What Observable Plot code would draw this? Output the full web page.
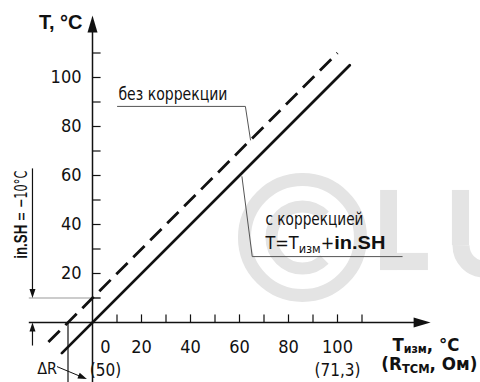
<!DOCTYPE html>
<html><head><meta charset="utf-8">
<script src="https://cdn.jsdelivr.net/npm/d3@7"></script>
<script src="https://cdn.jsdelivr.net/npm/@observablehq/plot@0.6"></script>
<style>body{margin:0;background:#fff} svg{display:block}</style>
</head><body><div id="chart"></div>
<script>
// ---- data ----
const xTicks = [10, 20, 30, 40, 50, 60, 70, 80, 90, 100, 110];
const yTicks = [10, 20, 30, 40, 50, 60, 70, 80, 90, 100, 110];
const xTickLabels = [0, 20, 40, 60, 80, 100];
const yTickLabels = [20, 40, 60, 80, 100];
const resistanceAt = [0, 100];
const resistanceLabels = ["(50)", "(71,3)"];
const tMeasCorrected = [-12.5, 105];
const tCorrected = [-12.5, 105];
const tMeasUncorrected = [-18, 100];
const tUncorrected = [-8, 110];
const inSH = -10;
const labelNoCorr = "без коррекции";
const labelCorr = "с коррекцией";
const labelFormula = "T=Tизм+in.SH";
const labelShift = "in.SH = −10°C";
const labelY = "T, °C";
const labelX1 = "Tизм, °C";
const labelX2 = "(RТСМ, Ом)";
const labelDR = "ΔR";

// ---- annotation geometry (data units) ----
const xAxisFrom = -26, xAxisTip = 138, yAxisTip = 125.3, yBottom = -27;
const shiftX = -24.5, tickLen = 3.3;

const NARROW = "'Liberation Sans Narrow','DejaVu Sans Condensed','Arial Narrow',sans-serif";
const BOLD = "'Liberation Sans',Arial,sans-serif";
const WIDEBOLD = "'DejaVu Sans','Liberation Sans',sans-serif";
const WM = "#e4e4e4";

const arrowBig = {draw(c){c.moveTo(0,0);c.lineTo(-17,-5);c.lineTo(-17,5);c.closePath();}};
const arrowSmall = {draw(c){c.moveTo(0,0);c.lineTo(-9,-3);c.lineTo(-9,3);c.closePath();}};

const pts = (xs, ys) => xs.map((x, i) => ({x, y: ys[i]}));

const solid = pts(tMeasCorrected, tCorrected);
const dashed = pts(tMeasUncorrected, tUncorrected);
const leaderNo = pts([10.2, 62.4, 64.5], [88.2, 88.2, 74.5]);
const leaderCorr = pts([61, 65.2, 126.4], [59.5, 26.9, 26.9]);
const one = [0];

const cR = 31, cC = 2 * Math.PI * cR;   // inner arc of the © watermark
const uR = 23.5, uC = 2 * Math.PI * uR; // bowl of the U watermark

let chart;
try {
chart = Plot.plot({
  width: 480, height: 382, margin: 0,
  style: {background: "#fff", color: "#111"},
  x: {type: "linear", domain: [-30, 150], range: [18.5, 459.5], axis: null},
  y: {type: "linear", domain: [-30, 130], range: [395.5, 3.5], axis: null},
  marks: [
    // watermark (logo shapes)
    Plot.dot(one, {x: () => 85.7, y: () => 34.7, r: 58, stroke: WM, strokeWidth: 13, fill: "none"}),
    Plot.dot(one, {x: () => 85.7, y: () => 34.7, r: cR, stroke: WM, strokeWidth: 12, fill: "none",
      strokeDasharray: `0,${cC / 8},${cC * 3 / 4},${cC / 8}`}),
    Plot.rect(one, {x1: () => 117.6, x2: () => 124.5, y1: () => 21.2, y2: () => 53.9, fill: WM}),
    Plot.rect(one, {x1: () => 117.6, x2: () => 137.1, y1: () => 21.2, y2: () => 28.2, fill: WM}),
    Plot.rect(one, {x1: () => 146.9, x2: () => 153.9, y1: () => 31.4, y2: () => 53.9, fill: WM}),
    Plot.dot(one, {x: () => 160, y: () => 31.4, r: uR, stroke: WM, strokeWidth: 17, fill: "none",
      strokeDasharray: `${uC / 2},${uC / 2}`}),
    // reference lines
    Plot.link(one, {x1: () => xAxisFrom, x2: () => 3.3, y1: () => -inSH, y2: () => -inSH, stroke: "#999", strokeWidth: 1.2}),
    Plot.link(one, {x1: () => inSH, x2: () => inSH, y1: () => 0, y2: () => yBottom, stroke: "#111", strokeWidth: 1.2}),
    // axes
    Plot.link(one, {x1: () => xAxisFrom, x2: () => xAxisTip - 5, y1: () => 0, y2: () => 0, stroke: "#111", strokeWidth: 1.5}),
    Plot.link(one, {x1: () => 0, x2: () => 0, y1: () => yBottom, y2: () => yAxisTip - 5, stroke: "#111", strokeWidth: 1.5}),
    Plot.dot(one, {x: () => xAxisTip, y: () => 0, symbol: arrowBig, fill: "#111", stroke: "none"}),
    Plot.dot(one, {x: () => 0, y: () => yAxisTip, symbol: arrowBig, fill: "#111", stroke: "none", rotate: -90}),
    Plot.link(xTicks, {x1: d => d, x2: d => d, y1: () => 0, y2: () => tickLen, stroke: "#111", strokeWidth: 1.2}),
    Plot.link(yTicks, {y1: d => d, y2: d => d, x1: () => 0, x2: () => tickLen, stroke: "#111", strokeWidth: 1.2}),
    // tick labels
    Plot.text(xTickLabels.filter(d => d !== 0), {x: d => d, y: () => 0, dy: 24.5, text: d => String(d), fontSize: 18, fontFamily: NARROW}),
    Plot.text(one, {x: () => 0, y: () => 0, dx: 13, dy: 24.5, text: () => String(xTickLabels[0]), fontSize: 18, fontFamily: NARROW}),
    Plot.text(yTickLabels, {x: () => 0, y: d => d, dx: -11, text: d => String(d), textAnchor: "end", fontSize: 18, fontFamily: NARROW}),
    Plot.text([resistanceAt[0]], {x: d => d, y: () => 0, dx: 13, dy: 48, text: () => resistanceLabels[0], fontSize: 17, fontFamily: NARROW}),
    Plot.text([resistanceAt[1]], {x: d => d, y: () => 0, dy: 48, text: () => resistanceLabels[1], fontSize: 17, fontFamily: NARROW}),
    // lines
    Plot.line(dashed, {x: "x", y: "y", stroke: "#111", strokeWidth: 2.8, strokeDasharray: "16,8", strokeLinecap: "butt"}),
    Plot.line(solid, {x: "x", y: "y", stroke: "#111", strokeWidth: 2.8}),
    // leaders
    Plot.line(leaderNo, {x: "x", y: "y", stroke: "#555", strokeWidth: 1}),
    Plot.line(leaderCorr, {x: "x", y: "y", stroke: "#555", strokeWidth: 1}),
    Plot.text([labelNoCorr], {x: () => 10.6, y: () => 91, text: d => d, textAnchor: "start", lineAnchor: "bottom", fontSize: 17, fontFamily: NARROW}),
    Plot.text([labelCorr], {x: () => 70.6, y: () => 39.6, text: d => d, textAnchor: "start", lineAnchor: "bottom", fontSize: 17, fontFamily: NARROW}),
    Plot.text([labelFormula], {x: () => 70.6, y: () => 30.2, text: d => d, textAnchor: "start", lineAnchor: "bottom", fontSize: 17, fontFamily: NARROW}),
    // in.SH annotation
    Plot.link(one, {x1: () => shiftX, x2: () => shiftX, y1: () => 62.9, y2: () => -inSH + 3, stroke: "#111", strokeWidth: 1.2}),
    Plot.dot(one, {x: () => shiftX, y: () => -inSH, symbol: arrowSmall, fill: "#111", stroke: "none", rotate: 90}),
    Plot.link(one, {x1: () => shiftX, x2: () => shiftX, y1: () => -9.4, y2: () => -3, stroke: "#111", strokeWidth: 1.2}),
    Plot.dot(one, {x: () => shiftX, y: () => 0, symbol: arrowSmall, fill: "#111", stroke: "none", rotate: -90}),
    Plot.text([labelShift], {x: () => -29, y: () => 44, text: d => d, rotate: -90, fontSize: 18, fontFamily: NARROW}),
    // delta R
    Plot.link(one, {x1: () => -14.5, y1: () => -18, x2: () => -3.5, y2: () => -22.6, stroke: "#111", strokeWidth: 1}),
    Plot.dot(one, {x: () => -2.3, y: () => -23.1, symbol: arrowSmall, fill: "#111", stroke: "none", rotate: 22.6}),
    Plot.text([labelDR], {x: () => -14.5, y: () => -19, text: d => d, textAnchor: "end", fontSize: 16, fontFamily: NARROW}),
    // axis titles
    Plot.text([labelY], {x: () => 0, y: () => yAxisTip, dx: -10, dy: 13, text: d => d, textAnchor: "end", lineAnchor: "bottom", fontSize: 20, fontWeight: "bold", fontFamily: BOLD}),
    Plot.text([labelX1], {x: () => 122.4, y: () => 0, dy: 28, text: d => d, textAnchor: "start", lineAnchor: "bottom", fontSize: 18, fontWeight: "bold", fontFamily: WIDEBOLD}),
    Plot.text([labelX2], {x: () => 117.9, y: () => 0, dy: 47.5, text: d => d, textAnchor: "start", lineAnchor: "bottom", fontSize: 17.5, fontWeight: "bold", fontFamily: WIDEBOLD})
  ]
});
document.getElementById("chart").append(chart);
} catch (e) {
  document.getElementById("chart").textContent = "ERR: " + e.message;
}

// rich text formatting (subscripts, bold parts) and fitted widths
const NS = "http://www.w3.org/2000/svg";
function fit(t, len) {
  if (len) { t.setAttribute("textLength", len); t.setAttribute("lengthAdjust", "spacingAndGlyphs"); }
}
function rich(content, parts, len) {
  if (!chart) return;
  for (const t of chart.querySelectorAll("text")) {
    if (t.textContent !== content) continue;
    if (parts) {
      t.textContent = "";
      let shift = 0;
      for (const p of parts) {
        const s = document.createElementNS(NS, "tspan");
        s.textContent = p.t;
        if (p.b) { s.setAttribute("font-weight", "bold"); s.setAttribute("font-family", p.f || BOLD); }
        if (p.fs) s.setAttribute("font-size", p.fs);
        const target = p.sub || 0;
        if (target !== shift) { s.setAttribute("dy", target - shift); shift = target; }
        t.appendChild(s);
      }
    }
    fit(t, len);
  }
}
rich(labelNoCorr, null, 109);
rich(labelCorr, null, 98);
rich(labelFormula, [{t: "T=T"}, {t: "изм", fs: 12, sub: 4}, {t: "+"}, {t: "in.SH", b: true, fs: 19}], 120);
rich(labelShift, [{t: "in.SH", b: true, fs: 19}, {t: " = −10°C"}], 88);
rich(labelX1, [{t: "T"}, {t: "изм", fs: 12, sub: 2}, {t: ", °C"}], 67);
rich(labelX2, [{t: "(R"}, {t: "ТСМ", fs: 12, sub: 3}, {t: ", Ом)"}], 96);
</script>
</body></html>
